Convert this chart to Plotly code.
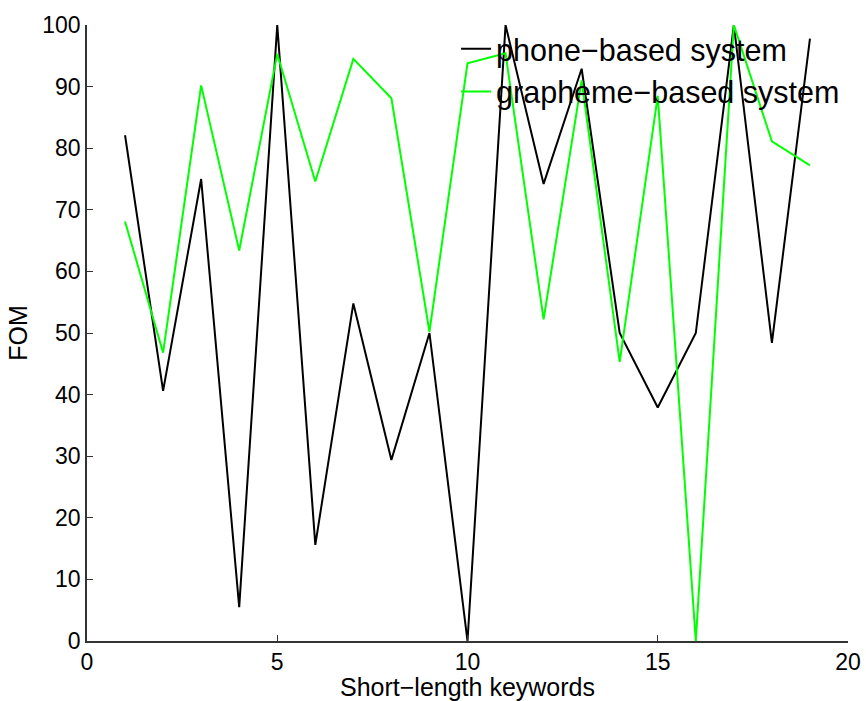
import plotly.graph_objects as go

keywords = list(range(1, 20))
phone_fom = [82.1, 40.6, 75.0, 5.5, 100.0, 15.6, 54.8, 29.4, 50.0, 0.0,
             100.0, 74.2, 92.9, 50.0, 37.9, 50.0, 100.0, 48.4, 97.8]
grapheme_fom = [68.1, 46.8, 90.2, 63.4, 95.3, 74.6, 94.5, 88.1, 50.2, 93.8,
                95.4, 52.2, 91.0, 45.3, 88.5, 0.0, 100.0, 81.1, 77.2]
x_ticks = [0, 5, 10, 15, 20]
y_ticks = list(range(0, 101, 10))

FONT = "Liberation Sans, Arial, sans-serif"

fig = go.Figure()
fig.add_trace(go.Scatter(x=keywords, y=phone_fom, mode="lines",
                         name="phone\u2212based system",
                         line=dict(color="black", width=2)))
fig.add_trace(go.Scatter(x=keywords, y=grapheme_fom, mode="lines",
                         name="grapheme\u2212based system",
                         line=dict(color="#00ff00", width=2)))

axis_common = dict(showline=True, linecolor="#333333", linewidth=1.5,
                   ticks="inside", ticklen=6, tickcolor="#333333", tickwidth=1,
                   showgrid=False, zeroline=False, mirror=False, automargin=False,
                   tickfont=dict(family=FONT, size=23, color="black"))

fig.update_layout(
    width=866, height=701,
    margin=dict(l=87, r=18, t=25, b=60),
    paper_bgcolor="white", plot_bgcolor="white",
    font=dict(family=FONT, color="black"),
    showlegend=True,
    legend=dict(x=0.485, y=1.004, xanchor="left", yanchor="top",
                bgcolor="rgba(0,0,0,0)", borderwidth=0,
                font=dict(family=FONT, size=30.5, color="black"),
                tracegroupgap=0, itemwidth=30),
    xaxis=dict(range=[0, 20], tickvals=x_ticks,
               title=dict(text="Short\u2212length keywords",
                          font=dict(family=FONT, size=25), standoff=2),
               **axis_common),
    yaxis=dict(range=[0, 100], tickvals=y_ticks,
               title=dict(text="FOM", font=dict(family=FONT, size=25), standoff=8),
               **axis_common),
)

fig.write_html("out.html")
